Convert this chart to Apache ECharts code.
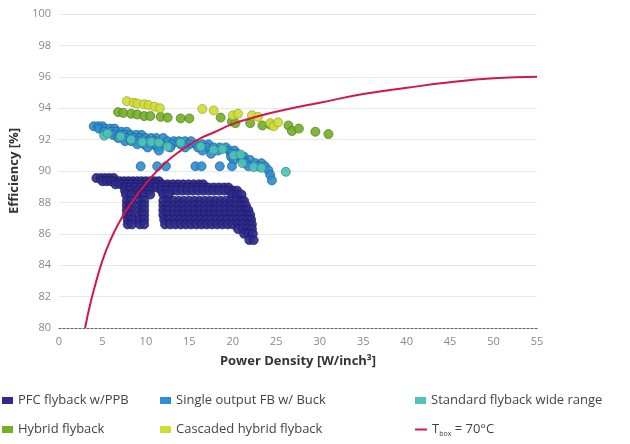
<!DOCTYPE html>
<html>
<head>
<meta charset="utf-8">
<script src="https://cdn.jsdelivr.net/npm/echarts@6/dist/echarts.min.js"></script>
<style>
  html, body { margin: 0; padding: 0; background: #fff; }
  #chart { width: 630px; height: 444px; }
</style>
</head>
<body>
<div id="chart"></div>
<script>
var seriesNames = ['PFC flyback w/PPB', 'Single output FB w/ Buck', 'Standard flyback wide range',
	'Hybrid flyback', 'Cascaded hybrid flyback', 'T_box = 70°C'];

// rows of points: [efficiency, [power densities...]]
var pfcRows = [
	[89.55, [4.3, 4.8, 5.3, 5.8, 6.3]],
	[89.35, [5.0, 5.5, 6.0, 6.5, 7.0, 7.5, 8.0, 8.5, 9.0, 9.5, 10.0, 10.5, 11.0, 11.5]],
	[89.15, [6.5, 7.1, 7.7, 8.3, 8.9, 9.5, 10.1, 10.7, 11.3, 11.9, 12.5, 13.1, 13.7, 14.3, 14.9, 15.5, 16.1, 16.6]],
	[88.95, [7.6, 8.2, 8.8, 9.4, 10.0, 10.6, 11.2, 11.8, 12.4, 13.0, 13.6, 14.2, 14.8, 15.4, 16.0, 16.6, 17.2, 17.8, 18.4, 19.0, 19.5]],
	[88.75, [7.6, 8.2, 9.1, 9.7, 10.4, 11.8, 12.4, 13.0, 13.6, 14.2, 14.8, 15.4, 16.0, 16.6, 17.2, 17.8, 18.4, 19.0, 19.6, 20.1, 20.5]],
	[88.5, [7.7, 8.3, 9.2, 9.8, 10.5, 12.0, 12.6, 19.9, 20.5, 21.0]],
	[88.1, [7.8, 8.3, 9.3, 9.8, 12.0, 12.6, 13.2, 13.8, 14.4, 15.0, 15.6, 16.2, 16.8, 17.4, 18.0, 18.6, 19.2, 19.8, 20.4, 21.0, 21.3]],
	[87.8, [7.8, 8.3, 9.3, 9.8, 12.0, 12.6, 13.2, 13.8, 14.4, 15.0, 15.6, 16.2, 16.8, 17.4, 18.0, 18.6, 19.2, 19.8, 20.4, 21.0, 21.5]],
	[87.5, [7.8, 8.3, 9.3, 9.8, 12.0, 12.6, 13.2, 13.8, 14.4, 15.0, 15.6, 16.2, 16.8, 17.4, 18.0, 18.6, 19.2, 19.8, 20.4, 21.0, 21.5, 21.8]],
	[87.2, [7.8, 8.3, 9.3, 9.8, 12.0, 12.6, 13.2, 13.8, 14.4, 15.0, 15.6, 16.2, 16.8, 17.4, 18.0, 18.6, 19.2, 19.8, 20.4, 21.0, 21.6, 22.0]],
	[86.9, [7.9, 8.4, 9.3, 9.8, 12.1, 12.7, 13.3, 13.9, 14.5, 15.1, 15.7, 16.3, 16.9, 17.5, 18.1, 18.7, 19.3, 19.9, 20.5, 21.1, 21.7, 22.1]],
	[86.6, [7.9, 8.4, 9.3, 9.8, 12.2, 12.8, 13.4, 14.0, 14.6, 15.2, 15.8, 16.4, 17.0, 17.6, 18.2, 18.8, 19.4, 20.0, 20.6, 21.2, 21.8, 22.2]],
	[86.3, [20.6, 21.2, 21.7, 22.2]],
	[86.0, [21.3, 21.8, 22.3]],
	[85.6, [21.9, 22.4]]
];

var buckRows = [
	[92.85, [4.0, 4.5, 5.0]],
	[92.7, [4.6, 5.3, 5.9, 6.4]],
	[92.5, [5.2, 6.0, 6.6, 7.2, 7.8]],
	[92.3, [6.2, 7.0, 7.6, 8.3, 8.9, 9.5]],
	[92.1, [6.8, 7.7, 8.6, 9.3, 10.0, 10.6, 11.2, 12.0]],
	[91.9, [7.6, 8.3, 9.1, 10.2, 11.0, 12.5, 13.2, 13.8, 14.5, 15.2]],
	[91.7, [9.0, 9.8, 10.6, 11.8, 13.0, 14.0, 15.0, 15.8, 16.5, 17.2]],
	[91.5, [10.2, 11.3, 12.8, 14.5, 16.0, 17.0, 17.8, 18.5, 19.2]],
	[91.3, [11.5, 16.5, 18.3, 19.6, 20.2]],
	[91.1, [17.5, 19.8, 20.5]],
	[90.9, [19.8, 20.8, 21.3]],
	[90.7, [20.1, 21.2, 22.0]],
	[90.5, [21.5, 22.6, 23.3]],
	[90.3, [9.4, 11.3, 12.3, 15.7, 16.4, 18.5, 19.9, 21.8, 22.9, 23.7]],
	[90.05, [24.1]],
	[89.75, [24.3]],
	[89.4, [24.5]]
];

var wideRangeData = [[5.2, 92.25], [5.6, 92.4], [7.1, 92.2], [8.3, 92.0], [9.6, 91.85], [10.6, 91.85],
	[11.5, 91.8], [12.5, 91.55], [14.0, 91.8], [16.3, 91.55], [17.8, 91.35], [18.8, 91.4], [20.1, 91.0],
	[20.9, 91.05], [21.1, 90.5], [22.4, 90.25], [23.3, 90.2], [26.1, 89.95]];

var hybridData = [[6.8, 93.75], [7.4, 93.7], [8.3, 93.65], [9.0, 93.6], [9.8, 93.5], [10.5, 93.5],
	[11.7, 93.45], [12.5, 93.4], [14.0, 93.35], [15.0, 93.35], [18.6, 93.4], [19.9, 93.15], [20.3, 93.05],
	[22.0, 93.05], [23.4, 92.9], [24.3, 92.95], [26.4, 92.9], [26.8, 92.55], [27.6, 92.7], [29.5, 92.5],
	[31.0, 92.35]];

var cascadedData = [[7.8, 94.45], [8.6, 94.35], [9.0, 94.3], [9.8, 94.25], [10.3, 94.2], [11.0, 94.1],
	[11.6, 94.0], [16.5, 93.95], [17.8, 93.85], [20.0, 93.55], [20.6, 93.65], [22.2, 93.55], [22.9, 93.45],
	[24.3, 93.05], [24.7, 92.85], [25.2, 93.1]];

var tboxCurve = [[3.0, 80], [3.5, 81.3], [4, 82.4], [5, 84.3], [6, 85.7], [7, 86.8], [8, 87.7], [9, 88.5],
	[10, 89.2], [12, 90.4], [14, 91.3], [16, 92.0], [18, 92.5], [20, 93.0], [23, 93.5], [26, 93.9],
	[30, 94.35], [35, 94.9], [40, 95.3], [45, 95.65], [50, 95.9], [55, 96.0]];

function fromRows(rows) {
	var out = [];
	rows.forEach(function (r) {
		r[1].forEach(function (x) { out.push([x, r[0]]); });
	});
	return out;
}

function scatter(name, data, color, border) {
	return {
		name: name,
		type: 'scatter',
		data: data,
		symbolSize: 9,
		itemStyle: { color: color, borderColor: border, borderWidth: 0.8, opacity: 0.92 }
	};
}

var chart = echarts.init(document.getElementById('chart'));
var font = 'Open Sans';
var legendText = { fontFamily: font, fontSize: 13, color: '#444',
	rich: { t: { fontFamily: font, fontSize: 13, color: '#444' }, s: { fontFamily: font, fontSize: 7, color: '#444', padding: [8, 0, 0, 0] } } };

function legendAt(name, left, top, icon, w, h) {
	return {
		data: [name], left: left, top: top, icon: icon, itemWidth: w, itemHeight: h,
		itemGap: 0, textStyle: legendText, padding: 0,
		itemStyle: { borderWidth: 0, opacity: 1 },
		formatter: function (n) {
			return n === 'T_box = 70°C' ? '{t|T}{s|box}{t| = 70°C}' : n;
		}
	};
}

var option = {
	animation: false,
	textStyle: { fontFamily: font },
	grid: { left: 58, right: 93, top: 14, bottom: 116 },
	xAxis: {
		type: 'value', min: 0, max: 55, interval: 5,
		name: 'Power Density [W/inch³]', nameLocation: 'middle', nameGap: 27,
		nameTextStyle: { fontFamily: font, fontSize: 13, fontWeight: 'bold', color: '#333' },
		axisLine: { show: true, lineStyle: { color: '#666', type: [2, 2], width: 1.2 } },
		axisTick: { show: false },
		axisLabel: { color: '#888', fontSize: 11, margin: 8 },
		splitLine: { show: false }
	},
	yAxis: {
		type: 'value', min: 80, max: 100, interval: 2,
		name: 'Efficiency [%]', nameLocation: 'middle', nameGap: 38,
		nameTextStyle: { fontFamily: font, fontSize: 13, fontWeight: 'bold', color: '#333' },
		axisLine: { show: false },
		axisTick: { show: false },
		axisLabel: { color: '#888', fontSize: 11, margin: 8 },
		splitLine: { lineStyle: { color: '#e8e8e8', width: 1 } }
	},
	legend: [
		legendAt(seriesNames[0], 2, 394, 'rect', 11, 7),
		legendAt(seriesNames[1], 160, 394, 'rect', 11, 7),
		legendAt(seriesNames[2], 415, 394, 'rect', 11, 7),
		legendAt(seriesNames[3], 2, 423, 'rect', 11, 7),
		legendAt(seriesNames[4], 160, 423, 'rect', 11, 7),
		legendAt(seriesNames[5], 415, 423, 'rect', 12, 2)
	],
	series: [
		scatter(seriesNames[0], fromRows(pfcRows), '#2f2b8c', '#1b1863'),
		scatter(seriesNames[1], fromRows(buckRows), '#2f8fd2', '#1e5f96'),
		scatter(seriesNames[2], wideRangeData, '#50c2b6', '#2c8a84'),
		scatter(seriesNames[3], hybridData, '#74b02a', '#4d7d17'),
		scatter(seriesNames[4], cascadedData, '#cfdc36', '#9aa827'),
		{
			name: seriesNames[5], type: 'line', data: tboxCurve, smooth: true,
			showSymbol: false, lineStyle: { color: '#d3164a', width: 2 },
			itemStyle: { color: '#d3164a' }, z: 5
		}
	]
};
chart.setOption(option);
</script>
</body>
</html>
